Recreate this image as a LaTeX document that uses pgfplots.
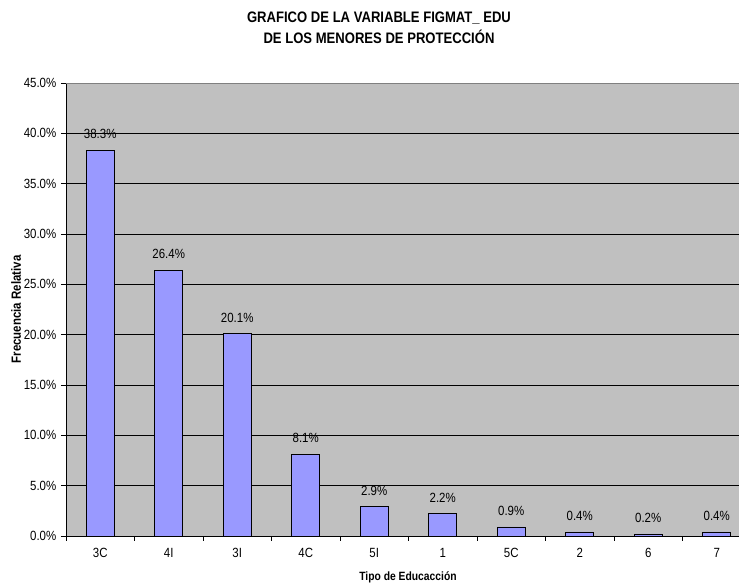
\documentclass[border=0pt]{standalone}
\usepackage{fontspec}
\setmainfont{Liberation Sans}[FakeStretch=0.86]
\usepackage{pgfplots}
\pgfplotsset{compat=1.18}
\usetikzlibrary{calc}

\definecolor{plotbg}{HTML}{C0C0C0}
\definecolor{barfill}{HTML}{9999FF}

\begin{document}
\begin{tikzpicture}
\begin{axis}[
  scale only axis,
  width=513.75pt, height=339.75pt,
  xmin=-0.5, xmax=9.5,
  ymin=0, ymax=45,
  axis background/.style={fill=plotbg},
  axis line style={draw=none},
  ybar, bar width=21pt,
  xtick={0,...,9},
  xticklabels={3C,4I,3I,4C,5I,1,5C,2,6,7},
  xtick pos=bottom, ytick pos=left,
  major x tick style={draw=none},
  extra x ticks={-0.5,0.5,...,9.5},
  extra x tick labels={},
  extra x tick style={major tick length=3.75pt, tick align=outside,
    major x tick style={draw=black, line width=0.6pt}},
  ytick={0,5,...,45},
  tick align=outside,
  major tick length=3.75pt,
  y tick style={black, line width=0.6pt},
  ymajorgrids, grid style={black, line width=0.6pt},
  /pgf/number format/assume math mode=true,
  yticklabel={\pgfmathprintnumber[fixed,fixed zerofill,precision=1]{\tick}\%},
  tick label style={font=\fontsize{10}{12}\selectfont},
  xticklabel style={yshift=-2pt},
  nodes near coords={\pgfmathprintnumber[fixed,fixed zerofill,precision=1]{\pgfplotspointmeta}\%},
  nodes near coords style={font=\fontsize{10}{12}\selectfont, anchor=south, yshift=5pt},
  xlabel={Tipo de Educacción},
  xlabel style={font=\bfseries\fontsize{9}{11}\selectfont, at={(rel axis cs:0.4993,0)}, anchor=center, yshift=-30.75pt},
]
\addplot[fill=barfill, draw=black, line width=0.6pt] coordinates {
  (0,38.3) (1,26.4) (2,20.1) (3,8.1) (4,2.9)
  (5,2.2) (6,0.9) (7,0.4) (8,0.2) (9,0.4)
};
\coordinate (bl) at (rel axis cs:0,0);
\coordinate (tl) at (rel axis cs:0,1);
\coordinate (br) at (rel axis cs:1,0);
\coordinate (tr) at (rel axis cs:1,1);
\end{axis}
\draw[black, line width=0.6pt] (tl) -- (bl) -- (br);
\draw[gray, line width=0.6pt] (tl) -- (tr);
\node[rotate=90, font=\bfseries\fontsize{10}{12}\selectfont] at ($(bl)+(-37.5pt,169.9pt)$)
  {Frecuencia Relativa};
\node[align=center, font=\bfseries\fontsize{11.4}{15.75}\selectfont] at ($(bl)+(234.75pt,381.4pt)$)
  {GRAFICO DE LA VARIABLE FIGMAT\_ EDU\\DE LOS MENORES DE PROTECCIÓN};
\pgfresetboundingbox
\path ($(bl)+(-49.5pt,-36pt)$) rectangle ($(bl)+(504.75pt,402pt)$);
\end{tikzpicture}
\end{document}
